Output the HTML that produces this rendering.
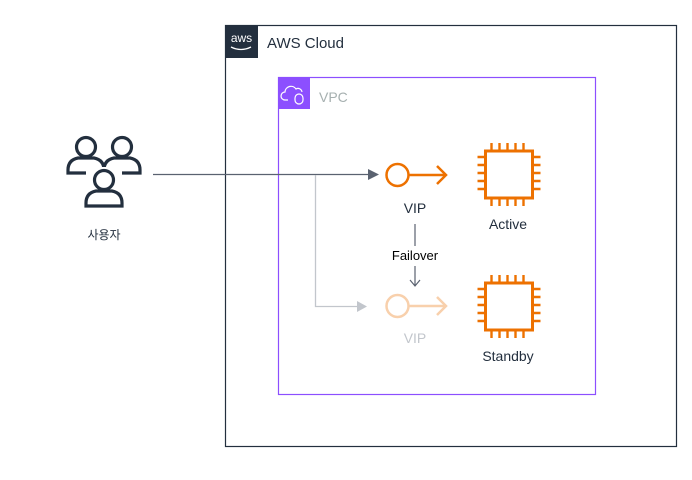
<!DOCTYPE html>
<html><head><meta charset="utf-8"><style>
body{margin:0;background:#fff;width:692px;height:475px;overflow:hidden}
text{font-family:"Liberation Sans","Noto Sans CJK KR",sans-serif}
</style></head><body>
<svg width="692" height="475" viewBox="0 0 692 475" xmlns="http://www.w3.org/2000/svg">
<defs>
<g id="chip" fill="none" stroke="#ed7100" stroke-width="3">
<rect x="0" y="0" width="47" height="47"/>
<path d="M6,0v-8M14,0v-8M22,0v-8M30,0v-8M38,0v-8M6,47v8M14,47v8M22,47v8M30,47v8M38,47v8M0,6h-8M0,14h-8M0,22h-8M0,30h-8M0,38h-8M47,6h8M47,14h8M47,22h8M47,30h8M47,38h8" stroke-width="2.4"/>
</g>
<g id="user" fill="none" stroke="#232f3e" stroke-width="3.2">
<circle cx="0" cy="-9" r="9.5"/>
<path d="M-18,17 v-3 q0,-10 10,-12 h16 q10,2 10,12 v3 z"/>
</g>
</defs>
<rect x="225.5" y="25.5" width="451" height="421" fill="none" stroke="#232f3e" stroke-width="1.2"/>
<rect x="225" y="25" width="33" height="33" fill="#232f3e"/>
<text x="241.5" y="42" fill="#fff" font-size="12" text-anchor="middle">aws</text>
<path d="M231,47 q10,5 20,0" stroke="#fff" stroke-width="1.3" fill="none"/>
<text x="267" y="48" font-size="15" fill="#232f3e">AWS Cloud</text>
<rect x="278.5" y="77.5" width="317" height="317" fill="none" stroke="#8c4fff" stroke-width="1.2"/>
<rect x="278" y="77" width="32" height="32" fill="#8c4fff"/>
<path d="M288,100 h-3 a4,4 0 0 1 0,-8 a6,6 0 0 1 11,-3 a4,4 0 0 1 6,3" stroke="#fff" stroke-width="1.2" fill="none"/>
<rect x="295" y="94" width="8" height="10" rx="4" stroke="#fff" stroke-width="1.2" fill="none"/>
<text x="319" y="102" font-size="14" fill="#a6b0b0">VPC</text>
<g transform="translate(86,156)"><use href="#user"/></g>
<g transform="translate(122,156)"><use href="#user"/></g>
<rect x="86" y="167" width="36" height="48" fill="#fff"/>
<g transform="translate(104,189)"><use href="#user"/></g>
<text x="104" y="239" font-size="12" fill="#232f3e" text-anchor="middle">사용자</text>
<line x1="153" y1="174.5" x2="370" y2="174.5" stroke="#5a6270" stroke-width="1.3"/>
<path d="M368,169 L379,174.5 L368,180 z" fill="#5a6270"/>
<path d="M315.5,175 V306.5 H358" stroke="#c2c6cc" stroke-width="1.3" fill="none"/>
<path d="M357,301 L367,306.5 L357,312 z" fill="#c2c6cc"/>
<g fill="none" stroke="#ed7100" stroke-width="2.5">
<circle cx="397.5" cy="175" r="11"/>
<path d="M409,175 H446 M437,166 L446,175 L437,184"/>
</g>
<g fill="none" stroke="#f8d0ac" stroke-width="2.5">
<circle cx="397.5" cy="306" r="11"/>
<path d="M409,306 H446 M437,297 L446,306 L437,315"/>
</g>
<text x="415" y="213" font-size="14" fill="#232f3e" text-anchor="middle">VIP</text>
<text x="415" y="343" font-size="14" fill="#c2c6cc" text-anchor="middle">VIP</text>
<line x1="415" y1="224" x2="415" y2="246" stroke="#5a6270" stroke-width="1.2"/>
<text x="415" y="260" font-size="13" fill="#000" text-anchor="middle">Failover</text>
<line x1="415" y1="266" x2="415" y2="286" stroke="#5a6270" stroke-width="1.2"/>
<path d="M410,280 L415,286 L420,280" stroke="#5a6270" stroke-width="1.2" fill="none"/>
<g transform="translate(485.5,151)"><use href="#chip"/></g>
<g transform="translate(485.5,283)"><use href="#chip"/></g>
<text x="508" y="229" font-size="14" fill="#232f3e" text-anchor="middle">Active</text>
<text x="508" y="361" font-size="14" fill="#232f3e" text-anchor="middle">Standby</text>
</svg>
</body></html>
